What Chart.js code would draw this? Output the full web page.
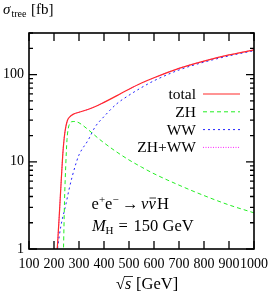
<!DOCTYPE html>
<html><head><meta charset="utf-8">
<script src="https://cdn.jsdelivr.net/npm/chart.js@4/dist/chart.umd.min.js"></script>
<style>html,body{margin:0;padding:0;background:#fff}#wrap{width:275px;height:293px}</style>
</head><body><div id="wrap"><canvas id="c" width="275" height="293"></canvas></div>
<script>
// ---- data ----
const xTickValues = [100,200,300,400,500,600,700,800,900,1000];
const yTickValues = [1,10,100];
const seriesLabels = ['total','ZH','WW','ZH+WW'];

const totalE = [206,213,221,228,235,241,247,254,264,276,300,338,377,400,450,500,550,600,700,800,900,1000];
const totalV = [0.5,1.0,2.4,5.5,12,19,25,30,33,35,37,40,44.5,48,57,68,80,92,118,143,168,192];

const zhE = [235,238,242,247,252,257,263,270,285,300,338,377,400,450,500,550,600,700,800,900,1000];
const zhV = [0.5,1.0,3.5,9,18,24,27.5,28.8,29,28,23.2,18.6,16.5,13,10.5,8.7,7.3,5.4,4.1,3.2,2.6];

const wwE = [205,214,227,247,260,273,290,300,338,364,400,450,500,550,600,700,800,900,1000];
const wwV = [0.6,1.0,1.8,3.2,4.8,6.8,10,12,18,25,33,46,58,71,85,113,139,164,188];

const sumE = [206,213,221,228,235,241,247,254,264,276,300,338,377,400,450,500,550,600,700,800,900,1000];
const sumV = [0.5,1.0,2.4,5.5,12,19,25,30,33,35,37,40,44.5,48,57,68,80,92,118,143,168,192];

const pts = (E,V) => E.map((e,i)=>({x:e,y:V[i]}));

const SERIF = '"Liberation Serif", "Times New Roman", serif';

// draw text pieces at given x positions (baseline y)
function pieces(ctx, y, list){
  for(const p of list){
    ctx.font = p.f;
    ctx.fillText(p.t, p.x, y + (p.dy||0));
  }
}

const decor = {
  id:'decor',
  afterDatasetsDraw(chart){
    const ctx = chart.ctx, a = chart.chartArea;
    const xs = chart.scales.x, ys = chart.scales.y;
    ctx.save();
    ctx.strokeStyle = '#000'; ctx.lineWidth = 1.6;
    ctx.strokeRect(a.left, a.top, a.right-a.left, a.bottom-a.top);
    ctx.lineWidth = 1.3;
    ctx.beginPath();
    for(const v of xTickValues){
      const px = xs.getPixelForValue(v);
      ctx.moveTo(px, a.bottom); ctx.lineTo(px, a.bottom-8);
      ctx.moveTo(px, a.top); ctx.lineTo(px, a.top+8);
    }
    for(let d=1; d<=100; d*=10){
      for(let m=1; m<=9; m++){
        const v = d*m; if(v>ys.max) break;
        const py = ys.getPixelForValue(v);
        const len = m===1 ? 8 : 4;
        ctx.moveTo(a.left, py); ctx.lineTo(a.left+len, py);
        ctx.moveTo(a.right, py); ctx.lineTo(a.right-len, py);
      }
    }
    ctx.stroke();

    // legend
    ctx.fillStyle = '#000';
    ctx.textAlign = 'right'; ctx.textBaseline = 'alphabetic';
    ctx.font = '15.5px '+SERIF;
    chart.data.datasets.forEach((ds,i)=>{
      const ly = 94 + i*17.8;
      ctx.fillText(ds.label, 196, ly+5);
      ctx.save();
      ctx.strokeStyle = ds.borderColor; ctx.lineWidth = ds.borderWidth;
      ctx.setLineDash(ds.borderDash||[]);
      ctx.beginPath(); ctx.moveTo(203, ly); ctx.lineTo(240, ly); ctx.stroke();
      ctx.restore();
    });

    ctx.textAlign = 'left';
    const F = 'px '+SERIF;
    // y title
    pieces(ctx, 14, [
      {t:'σ', x:3, f:'italic 15'+F},
      {t:'tree', x:11.5, f:'10'+F, dy:3},
      {t:'[fb]', x:31, f:'15'+F}
    ]);
    // process
    pieces(ctx, 209, [
      {t:'e', x:91.5, f:'16.5'+F},
      {t:'+', x:99, f:'11'+F, dy:-6},
      {t:'e', x:105, f:'16.5'+F},
      {t:'−', x:112.5, f:'11'+F, dy:-6},
      {t:'→', x:122, f:'16.5'+F},
      {t:'ν', x:141, f:'italic 16.5'+F},
      {t:'ν', x:148.5, f:'italic 16.5'+F},
      {t:'H', x:157, f:'16.5'+F}
    ]);
    ctx.lineWidth = 0.8;
    ctx.beginPath(); ctx.moveTo(149.5, 198); ctx.lineTo(156, 198); ctx.stroke();
    pieces(ctx, 231, [
      {t:'M', x:92, f:'italic 16.5'+F},
      {t:'H', x:105.5, f:'11'+F, dy:3},
      {t:'=', x:118.5, f:'16.5'+F},
      {t:'150', x:133.5, f:'16.5'+F},
      {t:'GeV', x:162.5, f:'16.5'+F}
    ]);
    // x title
    const base = 289;
    pieces(ctx, base, [
      {t:'√', x:116, f:'16'+F},
      {t:'s', x:125, f:'italic 16'+F},
      {t:'[GeV]', x:136, f:'16.5'+F}
    ]);
    ctx.lineWidth = 0.8;
    ctx.beginPath(); ctx.moveTo(124, base-12.5); ctx.lineTo(133, base-12.5); ctx.stroke();
    ctx.restore();
  }
};

new Chart(document.getElementById('c'), {
  type:'line',
  data:{datasets:[
    {label:seriesLabels[0], data:pts(totalE,totalV), borderColor:'#ff2a2a', borderWidth:1.2, pointRadius:0, cubicInterpolationMode:'monotone'},
    {label:seriesLabels[1], data:pts(zhE,zhV), borderColor:'#22ee22', borderWidth:1, borderDash:[4,3], pointRadius:0, cubicInterpolationMode:'monotone'},
    {label:seriesLabels[2], data:pts(wwE,wwV), borderColor:'#2222ff', borderWidth:1, borderDash:[2,3], pointRadius:0, cubicInterpolationMode:'monotone'},
    {label:seriesLabels[3], data:pts(sumE,sumV), borderColor:'#ff22ff', borderWidth:1, borderDash:[1,1.5], pointRadius:0, cubicInterpolationMode:'monotone'}
  ]},
  options:{
    responsive:false, devicePixelRatio:1, animation:false,
    layout:{padding:{top:33,right:15,left:0,bottom:0}},
    plugins:{legend:{display:false}, tooltip:{enabled:false}},
    scales:{
      x:{type:'linear', min:100, max:1000,
        afterBuildTicks:s=>{s.ticks = xTickValues.map(v=>({value:v}));},
        afterFit:s=>{s.height=44;},
        grid:{display:false, drawTicks:false}, border:{display:false},
        ticks:{autoSkip:false, maxRotation:0, minRotation:0, padding:7, color:'#000', font:{family:SERIF, size:14}, callback:v=>String(v)}
      },
      y:{type:'logarithmic', min:1, max:300,
        afterBuildTicks:s=>{s.ticks = yTickValues.map(v=>({value:v}));},
        afterFit:s=>{s.width=29;},
        grid:{display:false, drawTicks:false}, border:{display:false},
        ticks:{padding:5, color:'#000', font:{family:SERIF, size:14}, callback:v=>String(v)}
      }
    }
  },
  plugins:[decor]
});
</script></body></html>
